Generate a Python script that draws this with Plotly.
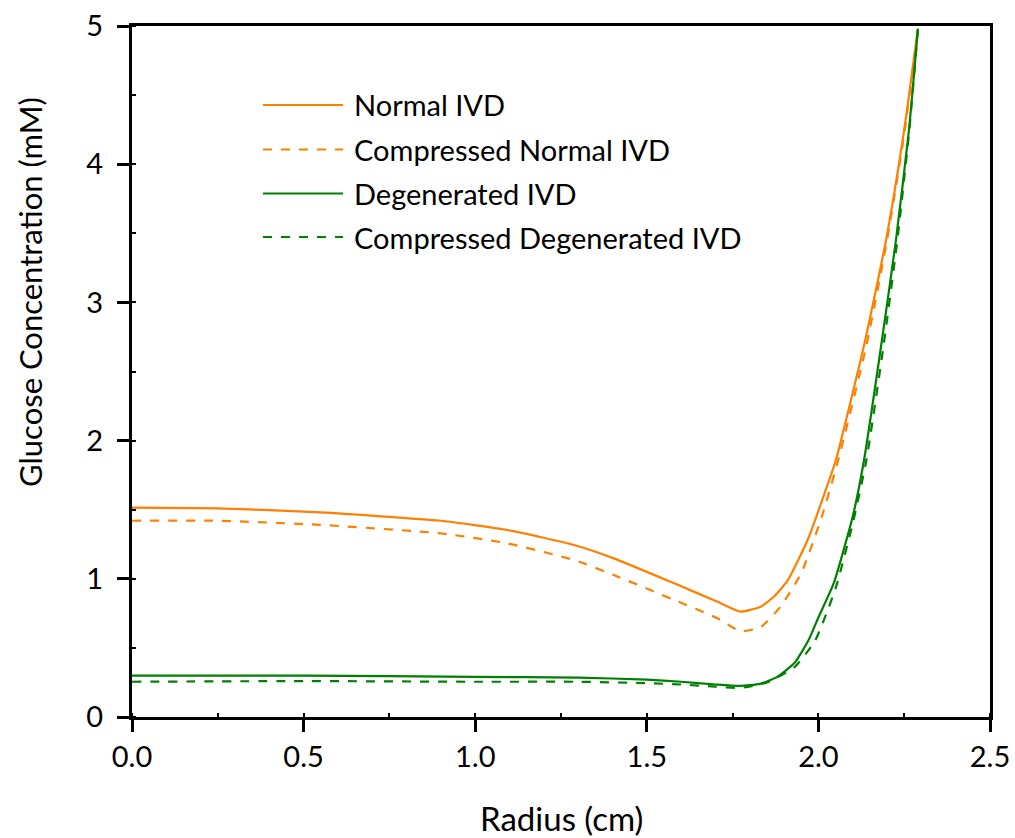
import plotly.graph_objects as go

# ---- data ----
normal_r = [0.0, 0.25, 0.55, 0.899, 1.093, 1.288, 1.404, 1.58, 1.706, 1.774, 1.833, 1.87, 1.911, 1.97, 2.028, 2.051, 2.133, 2.197, 2.25, 2.29]
normal_c = [1.515, 1.51, 1.48, 1.42, 1.353, 1.245, 1.148, 0.967, 0.834, 0.762, 0.80, 0.87, 0.99, 1.29, 1.69, 1.86, 2.69, 3.45, 4.25, 4.98]

comp_normal_r = [0.0, 0.25, 0.549, 0.899, 1.093, 1.288, 1.404, 1.58, 1.706, 1.774, 1.833, 1.89, 1.95, 2.01, 2.06, 2.14, 2.20, 2.252, 2.29]
comp_normal_c = [1.42, 1.42, 1.39, 1.329, 1.257, 1.136, 1.027, 0.847, 0.714, 0.62, 0.653, 0.80, 1.04, 1.45, 1.88, 2.69, 3.45, 4.25, 4.98]

degen_r = [0.0, 0.5, 1.0, 1.3, 1.5, 1.6, 1.7, 1.77, 1.83, 1.88, 1.93, 1.97, 2.0, 2.045, 2.1, 2.133, 2.183, 2.226, 2.264, 2.29]
degen_c = [0.30, 0.30, 0.29, 0.285, 0.27, 0.255, 0.235, 0.225, 0.24, 0.29, 0.39, 0.55, 0.72, 0.97, 1.45, 1.86, 2.69, 3.45, 4.25, 4.98]

comp_degen_r = [0.0, 0.5, 1.0, 1.3, 1.5, 1.6, 1.7, 1.77, 1.85, 1.93, 1.99, 2.05, 2.1, 2.14, 2.19, 2.23, 2.265, 2.29]
comp_degen_c = [0.255, 0.26, 0.255, 0.255, 0.245, 0.235, 0.22, 0.21, 0.25, 0.36, 0.55, 0.93, 1.40, 1.86, 2.69, 3.45, 4.25, 4.98]

x_ticks = [0.0, 0.5, 1.0, 1.5, 2.0, 2.5]
x_tick_labels = ["0.0", "0.5", "1.0", "1.5", "2.0", "2.5"]
y_ticks = [0, 1, 2, 3, 4, 5]
y_tick_labels = ["0", "1", "2", "3", "4", "5"]

names = ["Normal IVD", "Compressed Normal IVD", "Degenerated IVD", "Compressed Degenerated IVD"]
ORANGE = "#FF8000"
GREEN = "#008000"
colors = [ORANGE, ORANGE, GREEN, GREEN]
dashes = ["solid", "dash", "solid", "dash"]

FONT = "Lato, 'Open Sans', sans-serif"

fig = go.Figure()
series = [(normal_r, normal_c), (comp_normal_r, comp_normal_c), (degen_r, degen_c), (comp_degen_r, comp_degen_c)]
for (xr, yc), name, col, d in zip(series, names, colors, dashes):
    fig.add_trace(go.Scatter(x=xr, y=yc, mode="lines", name=name,
                             line=dict(color=col, width=2.2, dash=d, shape="spline", smoothing=0.5),
                             showlegend=False, cliponaxis=False))

# full-window figure (body margin removed in the page via post_script)
W, H = 1015, 838
L, R, T, B = 132, 25, 26, 121
pw, ph = W - L - R, H - T - B  # 858 x 691
PX0, PY1 = L, H - B  # plot left / bottom in page pixels


def px(x):
    return (x - PX0) / pw


def py(y):
    return (PY1 - y) / ph


# manual legend (long sample lines like the reference)
leg_y_px = [105, 149.5, 193.5, 237]
for name, col, d, yy in zip(names, colors, dashes, leg_y_px):
    fig.add_shape(type="line", xref="paper", yref="paper",
                  x0=px(263), x1=px(343), y0=py(yy), y1=py(yy),
                  line=dict(color=col, width=2.2, dash=d))
    fig.add_annotation(xref="paper", yref="paper", x=px(352), y=py(yy),
                       text=name, showarrow=False, xanchor="left", yanchor="middle",
                       font=dict(family=FONT, size=29, color="black"))

# axis titles
fig.add_annotation(xref="paper", yref="paper", x=0.5, y=py(818), text="Radius (cm)",
                   showarrow=False, xanchor="center", yanchor="middle",
                   font=dict(family=FONT, size=33, color="black"))
fig.add_annotation(xref="paper", yref="paper", x=px(30), y=py(292), text="Glucose Concentration (mM)",
                   showarrow=False, xanchor="center", yanchor="middle", textangle=-90,
                   font=dict(family=FONT, size=31, color="black"))

axis_common = dict(showline=True, linecolor="black", linewidth=3, mirror=True,
                   ticks="outside", ticklen=12, tickwidth=2.5, tickcolor="black",
                   showgrid=False, zeroline=False, ticklabeloverflow="allow",
                   tickfont=dict(family=FONT, size=29, color="black"),
                   minor=dict(ticks="inside", ticklen=4, tickwidth=1.5, tickcolor="black", showgrid=False))

fig.update_xaxes(range=[0, 2.5], tickvals=x_ticks, ticktext=x_tick_labels,
                 minor_dtick=0.25, **axis_common)
fig.update_yaxes(range=[0, 5], tickvals=y_ticks, ticktext=y_tick_labels,
                 minor_dtick=0.5, ticklabelstandoff=8, **axis_common)

fig.update_layout(width=W, height=H, margin=dict(l=L, r=R, t=T, b=B, autoexpand=False),
                  plot_bgcolor="white", paper_bgcolor="white", showlegend=False)

fig.write_html("out.html", config={"displayModeBar": False},
               post_script="document.body.style.margin='0px';document.body.style.overflow='hidden';")
